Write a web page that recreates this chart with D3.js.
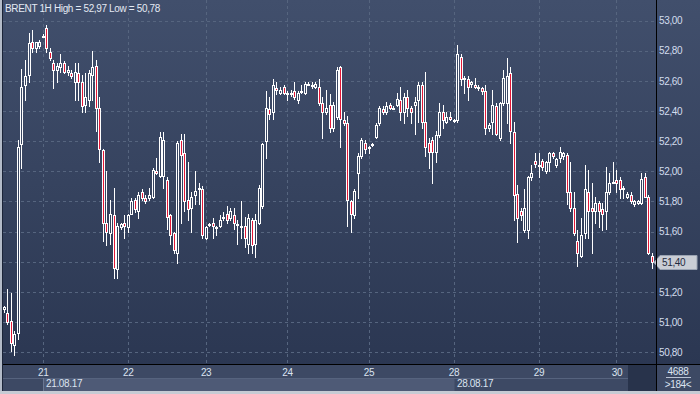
<!DOCTYPE html>
<html>
<head>
<meta charset="utf-8">
<script src="https://cdn.jsdelivr.net/npm/d3@7/dist/d3.min.js"></script>
<style>
  body { margin: 0; background: #2e3a55; }
  svg { display: block; }
  text { font-family: "Liberation Sans", Arial, sans-serif; font-size: 10px; letter-spacing: -0.35px; }
</style>
</head>
<body>
<div id="chart"></div>
<script>
// Brent 1H candles, 184 bars (21.08.17 - 30.08.17)
var opens = [
    51.09, 51.06, 51.01, 50.85, 50.93, 52.18, 52.57, 52.64, 52.86, 52.82,
    52.83, 52.90, 52.95, 52.79, 52.72, 52.67, 52.69, 52.72, 52.66, 52.65,
    52.59, 52.65, 52.59, 52.44, 52.47, 52.64, 52.70, 52.42, 52.14, 51.66,
    51.59, 51.71, 51.35, 51.63, 51.66, 51.63, 51.72, 51.81, 51.74, 51.86,
    51.82, 51.82, 51.83, 52.00, 51.97, 51.97, 51.94, 51.71, 51.59, 51.46,
    52.21, 52.12, 51.81, 51.76, 51.84, 51.88, 51.88, 51.56, 51.65, 51.66,
    51.63, 51.64, 51.69, 51.72, 51.69, 51.71, 51.65, 51.64, 51.64, 51.52,
    51.68, 51.52, 51.66, 51.77, 52.20, 52.41, 52.39, 52.55, 52.52, 52.56,
    52.52, 52.52, 52.53, 52.47, 52.53, 52.52, 52.58, 52.57, 52.56, 52.56,
    52.45, 52.39, 52.44, 52.29, 52.36, 52.69, 52.34, 52.32, 51.80, 51.71,
    51.99, 52.10, 52.19, 52.16, 52.18, 52.23, 52.32, 52.41, 52.39, 52.44,
    52.42, 52.44, 52.47, 52.39, 52.49, 52.42, 52.44, 52.47, 52.57, 52.33,
    52.19, 52.21, 52.13, 52.24, 52.39, 52.33, 52.36, 52.34, 52.34, 52.76,
    52.62, 52.61, 52.58, 52.57, 52.56, 52.55, 52.53, 52.29, 52.33, 52.43,
    52.22, 52.45, 52.45, 52.65, 52.26, 51.85, 51.74, 51.61, 51.61, 51.96,
    52.07, 52.04, 52.07, 52.00, 52.06, 52.12, 52.04, 52.09, 52.10, 52.11,
    51.86, 51.76, 51.54, 51.44, 51.59, 51.86, 51.76, 51.74, 51.79, 51.75,
    51.74, 51.86, 51.93, 51.94, 51.94, 51.89, 51.83, 51.84, 51.78, 51.79,
    51.79, 51.96, 51.83, 51.44
];
var highs = [
    51.11, 51.22, 51.19, 50.94, 52.21, 52.68, 52.74, 52.92, 52.94, 52.86,
    52.87, 52.91, 52.97, 52.82, 52.74, 52.72, 52.78, 52.73, 52.70, 52.67,
    52.72, 52.72, 52.64, 52.65, 52.67, 52.80, 52.74, 52.49, 52.15, 52.00,
    51.81, 51.89, 51.66, 51.66, 51.71, 51.72, 51.82, 51.82, 51.86, 51.88,
    51.84, 51.89, 52.02, 52.09, 52.26, 52.26, 51.96, 51.72, 51.60, 52.20,
    52.25, 52.25, 52.06, 51.86, 52.00, 51.92, 51.90, 51.64, 51.66, 51.69,
    51.64, 51.71, 51.73, 51.77, 51.76, 51.76, 51.68, 51.80, 51.70, 51.72,
    51.69, 51.72, 51.91, 52.19, 52.53, 52.49, 52.61, 52.59, 52.56, 52.57,
    52.53, 52.54, 52.59, 52.53, 52.57, 52.59, 52.59, 52.59, 52.59, 52.61,
    52.49, 52.54, 52.51, 52.46, 52.69, 52.70, 52.39, 52.37, 51.81, 51.88,
    52.12, 52.22, 52.21, 52.17, 52.19, 52.32, 52.43, 52.43, 52.46, 52.45,
    52.43, 52.52, 52.56, 52.52, 52.54, 52.43, 52.49, 52.59, 52.59, 52.66,
    52.22, 52.23, 52.27, 52.45, 52.44, 52.39, 52.39, 52.35, 52.84, 52.78,
    52.63, 52.63, 52.60, 52.62, 52.57, 52.56, 52.57, 52.32, 52.54, 52.45,
    52.46, 52.67, 52.75, 52.69, 52.33, 51.91, 51.76, 51.88, 51.97, 52.04,
    52.12, 52.12, 52.08, 52.07, 52.13, 52.13, 52.09, 52.16, 52.13, 52.12,
    52.06, 51.86, 51.61, 51.69, 52.04, 52.01, 51.92, 51.83, 51.80, 51.79,
    52.03, 51.99, 52.06, 52.01, 51.96, 51.90, 51.86, 51.86, 51.81, 51.81,
    51.99, 51.99, 51.84, 51.46
];
var lows = [
    51.07, 50.99, 50.81, 50.78, 50.89, 52.02, 52.47, 52.59, 52.79, 52.79,
    52.82, 52.89, 52.79, 52.74, 52.55, 52.59, 52.66, 52.65, 52.64, 52.62,
    52.47, 52.47, 52.39, 52.39, 52.43, 52.47, 52.27, 52.06, 51.54, 51.51,
    51.52, 51.29, 51.29, 51.62, 51.56, 51.60, 51.72, 51.73, 51.69, 51.81,
    51.79, 51.81, 51.82, 51.98, 51.96, 51.89, 51.62, 51.52, 51.46, 51.39,
    51.66, 51.74, 51.68, 51.60, 51.78, 51.78, 51.56, 51.55, 51.64, 51.56,
    51.58, 51.63, 51.68, 51.66, 51.68, 51.62, 51.52, 51.56, 51.50, 51.46,
    51.46, 51.43, 51.65, 51.76, 52.09, 52.35, 52.35, 52.51, 52.51, 52.51,
    52.47, 52.50, 52.48, 52.45, 52.52, 52.51, 52.57, 52.55, 52.55, 52.44,
    52.22, 52.38, 52.26, 52.27, 52.35, 52.16, 52.31, 51.64, 51.60, 51.69,
    51.82, 52.09, 52.12, 52.12, 52.17, 52.22, 52.31, 52.38, 52.38, 52.41,
    52.41, 52.43, 52.34, 52.32, 52.37, 52.32, 52.25, 52.33, 52.29, 52.10,
    52.02, 51.92, 52.06, 52.23, 52.29, 52.32, 52.34, 52.33, 52.33, 52.57,
    52.52, 52.47, 52.56, 52.55, 52.54, 52.51, 52.25, 52.27, 52.25, 52.24,
    52.21, 52.44, 52.32, 52.19, 51.68, 51.53, 51.68, 51.60, 51.56, 51.94,
    52.03, 51.96, 52.01, 51.99, 52.00, 52.09, 52.03, 52.06, 52.08, 51.78,
    51.74, 51.58, 51.37, 51.43, 51.56, 51.56, 51.46, 51.66, 51.63, 51.61,
    51.62, 51.85, 51.92, 51.86, 51.82, 51.82, 51.82, 51.79, 51.77, 51.78,
    51.78, 51.83, 51.45, 51.36
];
var closes = [
    51.10, 51.00, 50.86, 50.92, 52.16, 52.56, 52.63, 52.85, 52.82, 52.86,
    52.86, 52.90, 52.82, 52.75, 52.67, 52.70, 52.72, 52.66, 52.67, 52.63,
    52.66, 52.59, 52.43, 52.49, 52.65, 52.69, 52.42, 52.15, 51.66, 51.60,
    51.72, 51.36, 51.64, 51.65, 51.64, 51.71, 51.80, 51.75, 51.84, 51.82,
    51.80, 51.84, 52.01, 51.99, 52.23, 52.21, 51.70, 51.58, 51.48, 52.19,
    52.11, 51.80, 51.75, 51.83, 51.87, 51.89, 51.58, 51.63, 51.65, 51.64,
    51.63, 51.68, 51.70, 51.68, 51.74, 51.66, 51.65, 51.63, 51.56, 51.69,
    51.51, 51.68, 51.89, 52.18, 52.42, 52.38, 52.57, 52.54, 52.54, 52.52,
    52.52, 52.51, 52.49, 52.52, 52.53, 52.58, 52.58, 52.57, 52.58, 52.45,
    52.39, 52.42, 52.29, 52.44, 52.67, 52.35, 52.32, 51.81, 51.72, 51.87,
    52.10, 52.21, 52.15, 52.16, 52.18, 52.31, 52.42, 52.39, 52.43, 52.42,
    52.42, 52.48, 52.39, 52.49, 52.42, 52.39, 52.46, 52.57, 52.33, 52.16,
    52.13, 52.13, 52.24, 52.39, 52.34, 52.36, 52.35, 52.34, 52.78, 52.61,
    52.62, 52.56, 52.59, 52.56, 52.56, 52.53, 52.29, 52.31, 52.44, 52.25,
    52.45, 52.62, 52.63, 52.27, 51.84, 51.69, 51.71, 51.76, 51.96, 51.99,
    52.05, 52.04, 52.03, 52.06, 52.12, 52.10, 52.08, 52.13, 52.12, 51.86,
    51.76, 51.59, 51.46, 51.58, 51.88, 51.74, 51.74, 51.79, 51.74, 51.72,
    51.86, 51.92, 51.93, 51.92, 51.88, 51.89, 51.85, 51.80, 51.80, 51.80,
    51.95, 51.83, 51.46, 51.40
];

var priceTicks = [50.8, 51.0, 51.2, 51.4, 51.6, 51.8, 52.0, 52.2, 52.4, 52.6, 52.8, 53.0];
var dayLabels = ["21", "22", "23", "24", "25", "28", "29", "30"];
var dayBars = [11, 35, 57, 80, 103, 127, 151, 173];   // first bar of each day
var weekLabels = ["21.08.17", "28.08.17"];
var weekBars = [11, 127];
var lastPrice = 51.40;
var titleText = "BRENT 1H High = 52,97 Low = 50,78";
var totalBars = "4688";
var shownBars = ">184<";

var svgWidth = 700;
var svgHeight = 394;
var plotRight = 656;
var plotBottom = 364;

var svg = d3.select("#chart")
    .append("svg")
    .attr("width", svgWidth)
    .attr("height", svgHeight);

var fmt = d => d3.format(".2f")(d).replace(".", ",");

// Background gradient
var grad = svg.append("defs").append("linearGradient")
    .attr("id", "bg")
    .attr("gradientUnits", "userSpaceOnUse")
    .attr("x1", 0).attr("y1", 0).attr("x2", 0).attr("y2", plotBottom);
grad.append("stop").attr("offset", "0%").attr("stop-color", "#414f6c");
grad.append("stop").attr("offset", "100%").attr("stop-color", "#2b3752");

svg.append("rect").attr("width", svgWidth).attr("height", svgHeight).attr("fill", "#3d4964");
svg.append("rect").attr("x", 0).attr("y", 0).attr("width", svgWidth).attr("height", plotBottom)
    .attr("fill", "url(#bg)");

// Scales
var xScale = d3.scaleBand()
    .domain(d3.range(opens.length))
    .range([2.5, 654.1]);

var yScale = d3.scaleLinear()
    .domain([50.8, 53.0])
    .range([352.3, 20.5]);

var col = i => Math.floor(xScale(i) + xScale.bandwidth() / 2);

// Grid
var grid = svg.append("g")
    .attr("stroke", "#56657f")
    .attr("stroke-dasharray", "3,3");

grid.selectAll("line.h")
    .data(priceTicks)
    .enter()
    .append("line")
    .attr("x1", 3).attr("x2", plotRight)
    .attr("y1", d => Math.round(yScale(d)) + 0.5)
    .attr("y2", d => Math.round(yScale(d)) + 0.5);

grid.selectAll("line.v")
    .data(dayBars)
    .enter()
    .append("line")
    .attr("y1", 0).attr("y2", plotBottom)
    .attr("x1", d => col(d) + 0.5)
    .attr("x2", d => col(d) + 0.5);

// Candles
var candles = opens.map((o, i) => ({ i: i, o: o, h: highs[i], l: lows[i], c: closes[i] }));

var candleGroup = svg.append("g");

candleGroup.selectAll("line")
    .data(candles)
    .enter()
    .append("line")
    .attr("x1", d => col(d.i) + 0.5)
    .attr("x2", d => col(d.i) + 0.5)
    .attr("y1", d => Math.round(yScale(d.h)))
    .attr("y2", d => Math.round(yScale(d.l)) + 1)
    .attr("stroke", "#ffffff");

candleGroup.selectAll("rect")
    .data(candles)
    .enter()
    .append("rect")
    .attr("x", d => col(d.i) - 0.5)
    .attr("width", 2)
    .attr("y", d => Math.round(yScale(Math.max(d.o, d.c))) + 0.5)
    .attr("height", d => Math.max(1, Math.round(yScale(Math.min(d.o, d.c))) - Math.round(yScale(Math.max(d.o, d.c)))))
    .attr("fill", d => d.c < d.o ? "#e31837" : "url(#bg)")
    .attr("stroke", "#ffffff");

// Title
svg.append("text")
    .attr("x", 5)
    .attr("y", 12)
    .attr("fill", "#e4eaf4")
    .text(titleText);

// Bottom strips
svg.append("rect")
    .attr("x", col(weekBars[0]) + 0.5).attr("y", 378)
    .attr("width", col(weekBars[1]) - col(weekBars[0])).attr("height", 13)
    .attr("fill", "#4e5a76");
svg.append("line")
    .attr("x1", 3).attr("x2", 628).attr("y1", 378.5).attr("y2", 378.5)
    .attr("stroke", "#56637e");
svg.append("line")
    .attr("x1", col(weekBars[0]) + 0.5).attr("x2", col(weekBars[0]) + 0.5)
    .attr("y1", 378).attr("y2", 391)
    .attr("stroke", "#6a7792");
svg.append("rect")
    .attr("x", 628).attr("y", 365).attr("width", 28).attr("height", 26)
    .attr("fill", "#28334b");

// Day axis
var bottomAxis = d3.axisBottom(xScale)
    .tickValues(dayBars)
    .tickSize(0)
    .tickPadding(0)
    .tickFormat(d => dayLabels[dayBars.indexOf(d)]);

var xAxisG = svg.append("g")
    .attr("transform", "translate(0, 369)")
    .call(bottomAxis);
xAxisG.select(".domain").remove();
xAxisG.selectAll("text")
    .attr("fill", "#dbe3f0")
    .attr("font-family", null)
    .attr("font-size", null);

svg.selectAll("text.week")
    .data(weekLabels)
    .enter()
    .append("text")
    .attr("class", "week")
    .attr("x", (d, i) => col(weekBars[i]) + 3)
    .attr("y", 387)
    .attr("fill", "#dbe3f0")
    .text(d => d);

// Price axis on the right (the last price tag covers its own tick label)
var rightAxis = d3.axisRight(yScale)
    .tickValues(priceTicks.filter(d => Math.abs(d - lastPrice) > 0.05))
    .tickSize(0)
    .tickPadding(0)
    .tickFormat(fmt);

var yAxisG = svg.append("g")
    .attr("transform", "translate(659, 0)")
    .call(rightAxis);
yAxisG.select(".domain").remove();
yAxisG.selectAll("text")
    .attr("fill", "#d3ddee")
    .attr("font-family", null)
    .attr("font-size", null);

// Last price marker
var ly = Math.round(yScale(lastPrice)) + 0.5;
svg.append("path")
    .attr("d", `M654,${ly} L660,${ly - 7} L697,${ly - 7} L697,${ly + 7} L660,${ly + 7} Z`)
    .attr("fill", "#c9cdd5")
    .attr("stroke", "#9aa3b3");
svg.append("text")
    .attr("x", 662)
    .attr("y", ly)
    .attr("dy", "0.35em")
    .attr("fill", "#1f2a3e")
    .text(fmt(lastPrice));

// Bar count box
svg.append("text")
    .attr("x", 678).attr("y", 375)
    .attr("text-anchor", "middle")
    .attr("fill", "#dbe3f0")
    .text(totalBars);
svg.append("line")
    .attr("x1", 666).attr("x2", 691).attr("y1", 377.5).attr("y2", 377.5)
    .attr("stroke", "#b9c3d4");
svg.append("text")
    .attr("x", 678).attr("y", 388)
    .attr("text-anchor", "middle")
    .attr("fill", "#dbe3f0")
    .text(shownBars);

// Frame lines
svg.append("line")
    .attr("x1", 656.5).attr("x2", 656.5).attr("y1", 0).attr("y2", 391)
    .attr("stroke", "#000");
svg.append("line")
    .attr("x1", 3).attr("x2", svgWidth).attr("y1", 364.5).attr("y2", 364.5)
    .attr("stroke", "#000");
svg.append("line")
    .attr("x1", 2.5).attr("x2", 2.5).attr("y1", 0).attr("y2", 391)
    .attr("stroke", "#1b2438");
svg.append("rect")
    .attr("x", 0).attr("y", 0).attr("width", 2).attr("height", svgHeight)
    .attr("fill", "#b3bbc8");
svg.append("rect")
    .attr("x", 0).attr("y", 391).attr("width", svgWidth).attr("height", 3)
    .attr("fill", "#c6cbd4");
</script>
</body>
</html>
